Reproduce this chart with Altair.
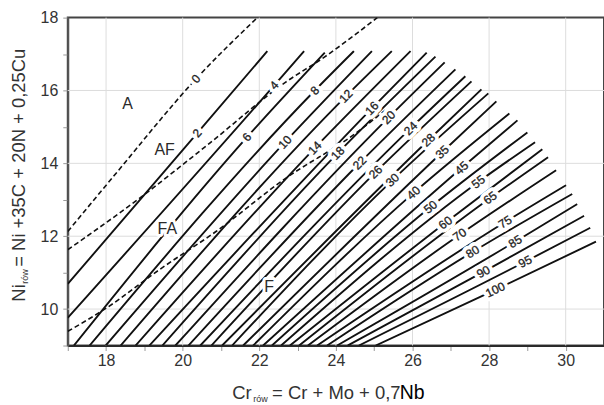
import math
import altair as alt
import pandas as pd

# Iso-ferrite-number lines (FN) of the constitution diagram
fn = [2, 4, 6, 8, 10, 12, 14, 16, 18, 20, 22, 24, 26, 28, 30,
      35, 40, 45, 50, 55, 60, 65, 70, 75, 80, 85, 90, 95, 100]

# lower end of every line (left edge for FN 2 and 4, bottom edge otherwise)
start_cr = [17.00, 17.00, 17.16, 17.57, 17.99, 18.38, 18.77, 19.13, 19.47, 19.81,
            20.15, 20.46, 20.75, 21.03, 21.29, 21.58, 21.84, 22.10, 22.33, 22.57,
            22.80, 23.04, 23.27, 23.51, 23.77, 24.03, 24.31, 24.60, 25.04]
start_ni = [10.69, 9.76, 9.00, 9.00, 9.00, 9.00, 9.00, 9.00, 9.00, 9.00,
            9.00, 9.00, 9.00, 9.00, 9.00, 9.00, 9.00, 9.00, 9.00, 9.00,
            9.00, 9.00, 9.00, 9.00, 9.00, 9.00, 9.00, 9.00, 9.00]

# point where the FN number is written on the line
label_cr = [20.38, 22.39, 21.68, 23.45, 22.67, 24.26, 23.45, 24.94, 24.05, 25.38,
            24.62, 25.95, 25.04, 26.42, 25.48, 26.78, 26.03, 27.28, 26.47, 27.72,
            26.86, 28.03, 27.23, 28.42, 27.57, 28.68, 27.85, 28.94, 28.16]
label_ni = [14.83, 16.14, 14.72, 16.00, 14.58, 15.84, 14.42, 15.51, 14.28, 15.26,
            14.01, 14.96, 13.76, 14.64, 13.54, 14.31, 13.19, 13.87, 12.80, 13.49,
            12.37, 13.05, 12.04, 12.39, 11.57, 11.85, 11.02, 11.30, 10.53]

# upper end of every line
end_cr = [22.21, 23.17, 23.71, 24.47, 24.94, 25.46, 25.95, 26.37, 26.60, 26.84,
          27.12, 27.38, 27.54, 27.80, 27.98, 28.19, 28.53, 28.74, 29.00, 29.20,
          29.39, 29.54, 29.75, 30.01, 30.17, 30.30, 30.48, 30.64, 30.79]
end_ni = [17.08, 17.08, 17.04, 17.08, 17.08, 17.08, 17.08, 17.04, 16.93, 16.77,
          16.58, 16.39, 16.25, 16.03, 15.92, 15.70, 15.37, 15.18, 14.85, 14.58,
          14.39, 14.17, 13.81, 13.40, 13.16, 12.88, 12.56, 12.23, 11.85]

# dashed phase boundaries A/AF (FN 0), AF/FA and FA/F
b_a_af_cr = [17.00, 18.20, 20.35, 21.95]
b_a_af_ni = [12.13, 13.65, 16.32, 18.00]
b_af_fa_cr = [17.00, 18.87, 20.70, 22.69, 23.69, 25.08]
b_af_fa_ni = [11.63, 13.04, 14.55, 16.23, 16.91, 18.00]
b_fa_f_cr = [17.00, 18.01, 19.39, 20.87, 22.69, 24.51, 25.29]
b_fa_f_ni = [9.39, 10.03, 11.08, 12.13, 13.59, 14.82, 15.46]
zero_label = ("0", 20.35, 16.32)

# solidification mode regions
region_text = ["A", "AF", "FA", "F"]
region_cr = [18.56, 19.53, 19.60, 22.26]
region_ni = [15.63, 14.37, 12.20, 10.60]

# axes
x_ticks = [17, 18, 19, 20, 21, 22, 23, 24, 25, 26, 27, 28, 29, 30, 31]
y_ticks = [9, 10, 11, 12, 13, 14, 15, 16, 17, 18]
x_grid = [18, 20, 22, 24, 26, 28, 30]
y_grid = [10, 12, 14, 16]

W, H = 538, 329
X_DOM, Y_DOM = (17, 31), (9, 18)
PX = W / (X_DOM[1] - X_DOM[0])
PY = H / (Y_DOM[1] - Y_DOM[0])
FONT = "Liberation Sans"


def text_angle(x0, y0, x1, y1):
    """Rotation (clockwise degrees) of a label running along a segment."""
    deg = math.degrees(math.atan2((y1 - y0) * PY, (x1 - x0) * PX))
    return (360 - deg) % 360


rows, labels = [], []
for i, v in enumerate(fn):
    pts = [(start_cr[i], start_ni[i]), (label_cr[i], label_ni[i]), (end_cr[i], end_ni[i])]
    for k, (c, n) in enumerate(pts):
        rows.append({"line": f"fn{v}", "k": k, "cr": c, "ni": n})
    a1 = text_angle(*pts[0], *pts[1])
    a2 = text_angle(*pts[1], *pts[2])
    labels.append({"txt": str(v), "cr": label_cr[i], "ni": label_ni[i],
                   "ang": (a1 + a2) / 2})
lines_df = pd.DataFrame(rows)

dash_rows = []
for name, cs, ns in [("a_af", b_a_af_cr, b_a_af_ni),
                     ("af_fa", b_af_fa_cr, b_af_fa_ni),
                     ("fa_f", b_fa_f_cr, b_fa_f_ni)]:
    for k, (c, n) in enumerate(zip(cs, ns)):
        dash_rows.append({"line": name, "k": k, "cr": c, "ni": n})
dash_df = pd.DataFrame(dash_rows)

labels.append({"txt": zero_label[0], "cr": zero_label[1], "ni": zero_label[2],
               "ang": text_angle(b_a_af_cr[1], b_a_af_ni[1], b_a_af_cr[3], b_a_af_ni[3])})
labels_df = pd.DataFrame(labels)
region_df = pd.DataFrame({"txt": region_text, "cr": region_cr, "ni": region_ni})

xs = alt.Scale(domain=list(X_DOM), nice=False, zero=False)
ys = alt.Scale(domain=list(Y_DOM), nice=False, zero=False)
x_axis = alt.Axis(values=x_ticks, labelExpr="datum.value % 2 == 0 ? datum.label : ''",
                  grid=False, tickSize=5, tickColor="#9a9a9a", tickWidth=1,
                  domainColor="#2a2a2a", domainWidth=2, labelFontSize=16,
                  labelFont=FONT, labelColor="#333333", labelPadding=2,
                  title=None, format="d")
y_axis = alt.Axis(values=y_ticks, labelExpr="datum.value % 2 == 0 ? datum.label : ''",
                  grid=False, tickSize=5, tickColor="#9a9a9a", tickWidth=1,
                  domainColor="#555555", domainWidth=2, labelFontSize=16,
                  labelFont=FONT, labelColor="#333333", labelPadding=5,
                  title=None, format="d")


def X():
    return alt.X("cr:Q", scale=xs, axis=x_axis)


def Y():
    return alt.Y("ni:Q", scale=ys, axis=y_axis)


grid_v = alt.Chart(pd.DataFrame({"cr": x_grid})).mark_rule(
    color="#dddddd", strokeWidth=1).encode(x=X())
grid_h = alt.Chart(pd.DataFrame({"ni": y_grid})).mark_rule(
    color="#dddddd", strokeWidth=1).encode(y=Y())

fn_lines = alt.Chart(lines_df).mark_line(
    color="#111111", strokeWidth=1.9, interpolate="monotone", clip=True
).encode(x=X(), y=Y(), detail="line:N", order="k:Q")

dash_lines = alt.Chart(dash_df).mark_line(
    color="#111111", strokeWidth=1.6, strokeDash=[5, 3], interpolate="monotone", clip=True
).encode(x=X(), y=Y(), detail="line:N", order="k:Q")

label_halo = alt.Chart(labels_df).mark_text(
    font=FONT, fontSize=12, color="white", stroke="white", strokeWidth=8,
    strokeJoin="round", align="center", baseline="middle"
).encode(x=X(), y=Y(), text="txt:N", angle=alt.Angle("ang:Q", scale=None))
label_text = alt.Chart(labels_df).mark_text(
    font=FONT, fontSize=12, color="#222222", stroke="#222222", strokeWidth=0.3,
    align="center", baseline="middle"
).encode(x=X(), y=Y(), text="txt:N", angle=alt.Angle("ang:Q", scale=None))

region_halo = alt.Chart(region_df).mark_text(
    font=FONT, fontSize=16, color="white", stroke="white", strokeWidth=6,
    strokeJoin="round", align="center", baseline="middle"
).encode(x=X(), y=Y(), text="txt:N")
region_label = alt.Chart(region_df).mark_text(
    font=FONT, fontSize=16, color="#2a2a2a", align="center", baseline="middle"
).encode(x=X(), y=Y(), text="txt:N")

one = pd.DataFrame({"k": [0]})


def piece(txt, px, py, size, color="#333333", angle=0):
    return alt.Chart(one).mark_text(
        text=txt, font=FONT, fontSize=size, color=color, align="left",
        baseline="alphabetic", angle=angle
    ).encode(x=alt.value(px), y=alt.value(py))


# axis titles with subscripts
x_title = [
    piece("Cr", 165, 383, 18.5),
    piece("rów", 186, 386, 9),
    piece("= Cr + Mo + 0,7", 205, 383, 18.5),
    piece("Nb", 333, 383, 19.5, color="#000000"),
]
y_title = [
    piece("Ni", -43, 285, 18.5, angle=270),
    piece("rów", -40, 267, 9, angle=270),
    piece("= Ni +35C + 20N + 0,25Cu", -43, 250, 18.5, angle=270),
]

chart = alt.layer(
    grid_v, grid_h, fn_lines, dash_lines, label_halo, label_text,
    region_halo, region_label, *x_title, *y_title
).properties(
    width=W, height=H,
    padding={"left": 68, "top": 17, "right": 0, "bottom": 59},
    autosize=alt.AutoSizeParams(type="none"),
    background="white",
).configure_view(stroke="#444444", strokeWidth=2)

chart.save("out.html", embed_options={"renderer": "svg", "actions": False})
